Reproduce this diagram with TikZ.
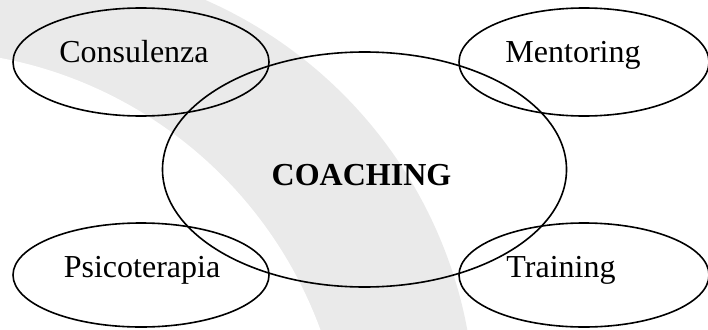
\documentclass[tikz,border=0pt]{standalone}
\usepackage{fontspec}
\setmainfont{Liberation Serif}
\usetikzlibrary{shapes.geometric}
\definecolor{bandgray}{RGB}{234,234,234}
\begin{document}
\begin{tikzpicture}[x=1pt,y=-1pt,
  oval/.style={draw=black, line width=1.6pt, ellipse, inner sep=0pt},
  small/.style={oval, minimum width=250pt, minimum height=108pt},
  lbl/.style={font=\fontsize{32}{38}\selectfont, anchor=base, inner sep=0pt}]
\useasboundingbox (0,0) rectangle (708,329);
\begin{scope}
  \clip (0,0) rectangle (708,329);
  \fill[bandgray] (24.5,412.6) circle[radius=450.4pt];
  \fill[white] (-79.3,476) circle[radius=425.5pt];
\end{scope}
\node[oval, minimum width=404pt, minimum height=235pt] (coach) at (364.5,169.5) {};
\node[small, minimum width=256pt] (cons) at (141,62) {};
\node[small] (ment) at (584,62) {};
\node[small, minimum width=256pt, minimum height=104pt] (psico) at (141,275) {};
\node[small, minimum height=104pt] (train) at (584,275) {};
\node[lbl] (tcons) at (134,62) {Consulenza};
\node[lbl] (tment) at (573,62) {Mentoring};
\node[lbl] (tpsico) at (142,277) {Psicoterapia};
\node[lbl] (ttrain) at (561,277) {Training};
\node[lbl, font=\fontsize{32}{38}\selectfont\bfseries] (tcoach) at (361.5,185) {COACHING};
\end{tikzpicture}
\end{document}
